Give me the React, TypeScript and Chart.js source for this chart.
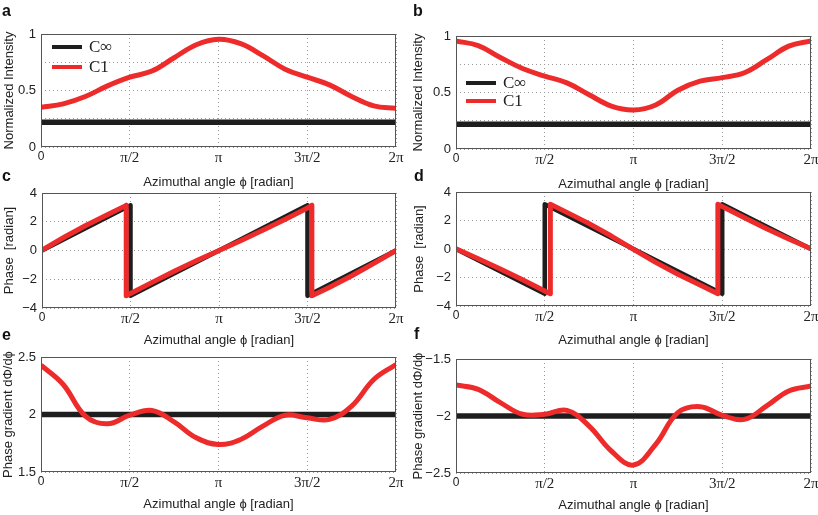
import React, { useEffect, useRef } from 'react';
import { Chart, registerables } from 'chart.js';

Chart.register(...registerables);

const PI = Math.PI;

// ---------- data ----------
const phiSamples = [0, 0.393, 0.785, 1.178, 1.571, 1.963, 2.356, 2.749, 3.142, 3.534, 3.927, 4.32, 4.712, 5.105, 5.498, 5.89, 6.283];
const xTickValues = [0, PI / 2, PI, (3 * PI) / 2, 2 * PI];
const xTickLabels = ['0', 'π/2', 'π', '3π/2', '2π'];

// a: normalized intensity
const intensityA_Cinf = [0.22, 0.22, 0.22, 0.22, 0.22, 0.22, 0.22, 0.22, 0.22, 0.22, 0.22, 0.22, 0.22, 0.22, 0.22, 0.22, 0.22];
const intensityA_C1 = [0.352, 0.382, 0.447, 0.541, 0.618, 0.672, 0.79, 0.905, 0.953, 0.914, 0.808, 0.689, 0.618, 0.55, 0.447, 0.364, 0.343];
// b: normalized intensity
const intensityB_Cinf = [0.22, 0.22, 0.22, 0.22, 0.22, 0.22, 0.22, 0.22, 0.22, 0.22, 0.22, 0.22, 0.22, 0.22, 0.22, 0.22, 0.22];
const intensityB_C1 = [0.956, 0.915, 0.81, 0.712, 0.645, 0.585, 0.48, 0.38, 0.345, 0.39, 0.52, 0.6, 0.632, 0.675, 0.79, 0.91, 0.956];

// c: phase
const phaseC_CinfX = [0, 1.571, 1.571, 4.712, 4.712, 6.283];
const phaseC_CinfY = [0, 3.14, -3.14, 3.14, -3.14, 0];
const phaseC_C1X = [0, 0.393, 0.785, 1.178, 1.495, 1.495, 1.571, 1.963, 2.356, 2.749, 3.142, 3.534, 3.927, 4.32, 4.712, 4.79, 4.79, 5.105, 5.498, 5.89, 6.283];
const phaseC_C1Y = [0.02, 0.92, 1.76, 2.52, 3.14, -3.14, -2.99, -2.2, -1.42, -0.69, 0.0, 0.7, 1.42, 2.18, 2.96, 3.14, -3.14, -2.55, -1.76, -0.9, 0.0];
// d: phase
const phaseD_CinfX = [0, 1.571, 1.571, 4.712, 4.712, 6.283];
const phaseD_CinfY = [0, -3.14, 3.14, -3.14, 3.14, 0];
const phaseD_C1X = [0, 0.393, 0.785, 1.178, 1.571, 1.67, 1.67, 1.963, 2.356, 2.749, 3.142, 3.534, 3.927, 4.32, 4.635, 4.635, 4.712, 5.105, 5.498, 5.89, 6.283];
const phaseD_C1Y = [0.02, -0.69, -1.4, -2.16, -2.94, -3.14, 3.14, 2.57, 1.78, 0.91, -0.02, -0.94, -1.77, -2.53, -3.14, 3.14, 2.99, 2.2, 1.42, 0.7, 0.02];

// e: phase gradient
const gradE_Cinf = [2, 2, 2, 2, 2, 2, 2, 2, 2, 2, 2, 2, 2, 2, 2, 2, 2];
const gradE_C1 = [2.429, 2.261, 1.986, 1.919, 1.994, 2.035, 1.936, 1.797, 1.739, 1.783, 1.899, 1.994, 1.971, 1.957, 2.072, 2.304, 2.435];
// f: phase gradient
const gradF_Cinf = [-2, -2, -2, -2, -2, -2, -2, -2, -2, -2, -2, -2, -2, -2, -2, -2, -2];
const gradF_C1 = [-1.728, -1.766, -1.883, -1.985, -1.985, -1.95, -2.088, -2.307, -2.43, -2.249, -1.971, -1.918, -1.994, -2.03, -1.912, -1.78, -1.737];

// y ticks
const yTicksIntensity = [0, 0.25, 0.5, 0.75, 1];
const yLabelsIntensity = ['0', '', '0.5', '', '1'];
const yTicksPhase = [-4, -2, 0, 2, 4];
const yLabelsPhase = ['−4', '−2', '0', '2', '4'];
const yTicksGradE = [1.5, 2, 2.5];
const yLabelsGradE = ['1.5', '2', '2.5'];
const yTicksGradF = [-2.5, -2, -1.5];
const yLabelsGradF = ['−2.5', '−2', '−1.5'];

const seriesNames = ['C∞', 'C1'];

// ---------- styling ----------
const SANS = "'Liberation Sans', Arial, sans-serif";
const SERIF = "'Liberation Serif', 'Times New Roman', serif";
const RED = '#ee2b2b';
const BLACK = '#1e1e1e';
const W = 818;
const H = 515;
const TITLE_SIZE = 13;
const HALF_LH = (TITLE_SIZE * 1.2) / 2;

type Series = { label: string; xs: number[]; ys: number[]; color: string; width: number; tension: number; order: number };
type Panel = {
  letter: string; lx: number; ly: number;
  L: number; R: number; T: number; B: number;
  titleY: number; yTitleX: number;
  yMin: number; yMax: number; yTicks: number[]; yLabels: string[];
  yTitle: string;
  series: Series[];
  legend?: { dx: number; dy: number; gap: number };
};

const blk = (xs: number[], ys: number[], width = 5.5, tension = 0): Series => ({ label: seriesNames[0], xs, ys, color: BLACK, width, tension, order: 1 });
const red = (xs: number[], ys: number[], tension = 0.4): Series => ({ label: seriesNames[1], xs, ys, color: RED, width: 5, tension, order: 0 });

const panels: Panel[] = [
  {
    letter: 'a', lx: 2, ly: 3, L: 41, R: 396, T: 34, B: 147, titleY: 182, yTitleX: 9.5,
    yMin: 0, yMax: 1, yTicks: yTicksIntensity, yLabels: yLabelsIntensity, yTitle: 'Normalized Intensity',
    series: [blk(phiSamples, intensityA_Cinf), red(phiSamples, intensityA_C1)],
    legend: { dx: 11, dy: 13, gap: 20 },
  },
  {
    letter: 'b', lx: 413, ly: 3, L: 456, R: 811, T: 36, B: 149, titleY: 184, yTitleX: 418,
    yMin: 0, yMax: 1, yTicks: yTicksIntensity, yLabels: yLabelsIntensity, yTitle: 'Normalized Intensity',
    series: [blk(phiSamples, intensityB_Cinf), red(phiSamples, intensityB_C1)],
    legend: { dx: 10, dy: 47, gap: 18 },
  },
  {
    letter: 'c', lx: 2, ly: 168, L: 42, R: 396, T: 193, B: 308, titleY: 340, yTitleX: 9.5,
    yMin: -4, yMax: 4, yTicks: yTicksPhase, yLabels: yLabelsPhase, yTitle: 'Phase  [radian]',
    series: [blk(phaseC_CinfX, phaseC_CinfY, 4.5), red(phaseC_C1X, phaseC_C1Y, 0)],
  },
  {
    letter: 'd', lx: 414, ly: 168, L: 456, R: 811, T: 192, B: 306, titleY: 340, yTitleX: 419.5,
    yMin: -4, yMax: 4, yTicks: yTicksPhase, yLabels: yLabelsPhase, yTitle: 'Phase  [radian]',
    series: [blk(phaseD_CinfX, phaseD_CinfY, 4.5), red(phaseD_C1X, phaseD_C1Y, 0)],
  },
  {
    letter: 'e', lx: 2, ly: 327, L: 41, R: 396, T: 357, B: 472, titleY: 504, yTitleX: 8.5,
    yMin: 1.5, yMax: 2.5, yTicks: yTicksGradE, yLabels: yLabelsGradE, yTitle: 'Phase gradient dΦ/dϕ',
    series: [blk(phiSamples, gradE_Cinf), red(phiSamples, gradE_C1)],
  },
  {
    letter: 'f', lx: 414, ly: 326, L: 456, R: 811, T: 359, B: 473, titleY: 505, yTitleX: 418.5,
    yMin: -2.5, yMax: -1.5, yTicks: yTicksGradF, yLabels: yLabelsGradF, yTitle: 'Phase gradient dΦ/dϕ',
    series: [blk(phiSamples, gradF_Cinf), red(phiSamples, gradF_C1)],
  },
];

const framePlugin = {
  id: 'frame',
  afterDatasetsDraw(chart: any) {
    const { ctx, chartArea: a } = chart;
    ctx.save();
    ctx.strokeStyle = '#555';
    ctx.lineWidth = 1;
    ctx.strokeRect(Math.round(a.left) + 0.5, Math.round(a.top) + 0.5, Math.round(a.right - a.left) - 1, Math.round(a.bottom - a.top) - 1);
    ctx.restore();
  },
};

const legendPlugin = {
  id: 'miniLegend',
  afterDraw(chart: any, _args: any, opts: any) {
    if (!opts || !opts.show) return;
    const { ctx, chartArea: a } = chart;
    ctx.save();
    chart.data.datasets.forEach((ds: any, i: number) => {
      const y = a.top + opts.dy + i * opts.gap;
      const x0 = a.left + opts.dx;
      ctx.strokeStyle = ds.borderColor;
      ctx.lineWidth = 4;
      ctx.beginPath();
      ctx.moveTo(x0, y);
      ctx.lineTo(x0 + 30, y);
      ctx.stroke();
      ctx.fillStyle = '#222';
      ctx.font = `17px ${SERIF}`;
      ctx.textBaseline = 'middle';
      ctx.textAlign = 'left';
      ctx.fillText(ds.label, x0 + 37, y + 1);
    });
    ctx.restore();
  },
};

function buildConfig(p: Panel): any {
  const yLeft = p.yTitleX - HALF_LH;
  const YW = p.L - yLeft;
  const XH = p.titleY + HALF_LH - p.B;
  const gridColor = '#9a9a9a';
  return {
    type: 'line',
    data: {
      datasets: p.series.map((s) => ({
        label: s.label,
        data: s.xs.map((x, i) => ({ x, y: s.ys[i] })),
        borderColor: s.color,
        backgroundColor: s.color,
        borderWidth: s.width,
        pointRadius: 0,
        tension: s.tension,
        fill: false,
        order: s.order,
        borderJoinStyle: 'round',
      })),
    },
    options: {
      responsive: false,
      animation: false,
      events: [],
      layout: { padding: { left: yLeft, top: p.T, right: W - p.R, bottom: H - (p.B + XH) } },
      plugins: {
        legend: { display: false },
        tooltip: { enabled: false },
        miniLegend: p.legend ? { show: true, ...p.legend } : { show: false },
      },
      scales: {
        x: {
          type: 'linear',
          min: 0,
          max: 2 * PI,
          afterBuildTicks: (s: any) => {
            s.ticks = xTickValues.map((v) => ({ value: v }));
          },
          afterFit: (s: any) => {
            s.height = XH;
            s.paddingLeft = 0;
            s.paddingRight = 0;
          },
          ticks: {
            autoSkip: false,
            maxRotation: 0,
            padding: 2,
            color: '#222',
            callback: (_v: any, i: number) => xTickLabels[i],
            font: (ctx: any) => (ctx.index === 0 ? { family: SANS, size: 12 } : { family: SERIF, size: 15 }),
          },
          grid: { color: gridColor, lineWidth: 1, drawTicks: false },
          border: { display: false, dash: [1, 3] },
          title: {
            display: true,
            text: 'Azimuthal angle ϕ [radian]',
            font: { family: SANS, size: TITLE_SIZE },
            color: '#222',
            padding: 0,
          },
        },
        y: {
          type: 'linear',
          min: p.yMin,
          max: p.yMax,
          afterBuildTicks: (s: any) => {
            s.ticks = p.yTicks.map((v) => ({ value: v }));
          },
          afterFit: (s: any) => {
            s.width = YW;
            s.paddingTop = 0;
            s.paddingBottom = 0;
          },
          ticks: {
            autoSkip: false,
            padding: 5,
            color: '#222',
            callback: (_v: any, i: number) => p.yLabels[i],
            font: { family: SANS, size: 13 },
          },
          grid: { color: gridColor, lineWidth: 1, drawTicks: false },
          border: { display: false, dash: [1, 3] },
          title: {
            display: true,
            text: p.yTitle,
            font: { family: SANS, size: TITLE_SIZE },
            color: '#222',
            padding: 0,
          },
        },
      },
    },
    plugins: [framePlugin, legendPlugin],
  };
}

function PanelChart({ panel }: { panel: Panel }) {
  const ref = useRef<HTMLCanvasElement | null>(null);
  useEffect(() => {
    if (!ref.current) return;
    const chart = new Chart(ref.current, buildConfig(panel));
    return () => chart.destroy();
  }, [panel]);
  return (
    <canvas
      ref={ref}
      width={W}
      height={H}
      style={{ position: 'absolute', left: 0, top: 0, width: W, height: H, pointerEvents: 'none' }}
    />
  );
}

export default function App() {
  return (
    <div style={{ position: 'fixed', left: 0, top: 0, width: W, height: H, background: '#fff', overflow: 'hidden' }}>
      {panels.map((p) => (
        <PanelChart key={p.letter} panel={p} />
      ))}
      {panels.map((p) => (
        <div
          key={'lbl-' + p.letter}
          style={{
            position: 'absolute',
            left: p.lx,
            top: p.ly,
            fontFamily: SANS,
            fontWeight: 'bold',
            fontSize: 16,
            lineHeight: '16px',
            color: '#111',
          }}
        >
          {p.letter}
        </div>
      ))}
    </div>
  );
}
